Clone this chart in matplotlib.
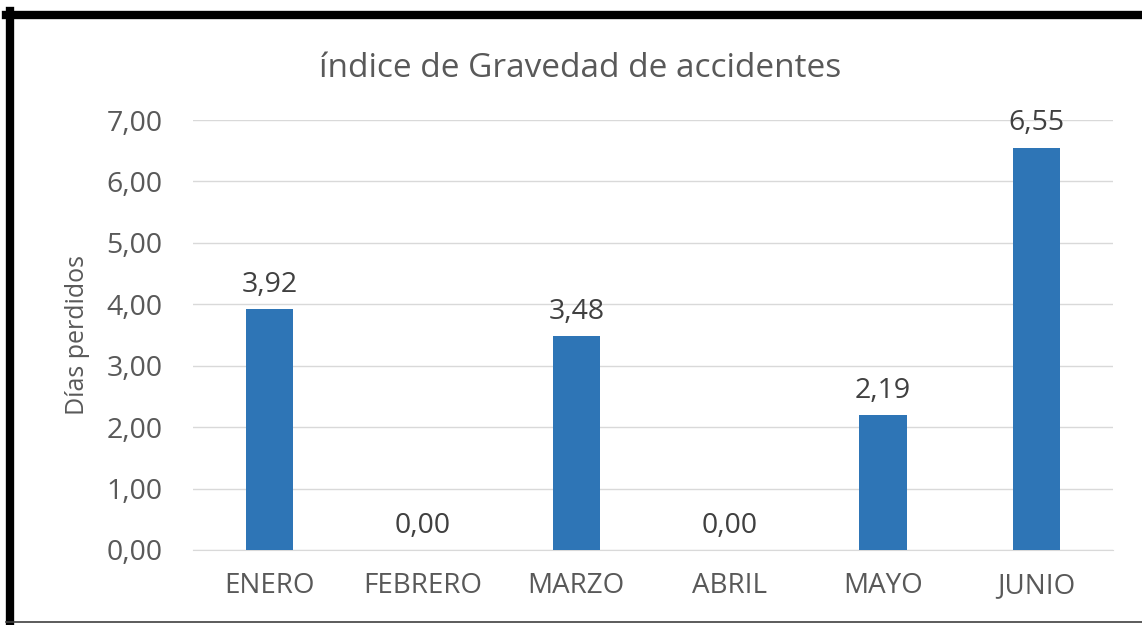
import matplotlib.pyplot as plt
from matplotlib.lines import Line2D

months = ['ENERO', 'FEBRERO', 'MARZO', 'ABRIL', 'MAYO', 'JUNIO']
values = [3.92, 0.00, 3.48, 0.00, 2.19, 6.55]
yticks = [0, 1, 2, 3, 4, 5, 6, 7]

plt.rcParams['font.family'] = ['Open Sans', 'DejaVu Sans']
gray = '#595959'

fig = plt.figure(figsize=(11.42, 6.25), dpi=100)
ax = fig.add_axes([0.169, 0.12, 0.8056, 0.688])

x = range(len(months))
ax.bar(x, values, width=0.31, color='#2E75B6', zorder=3)
for xi, v in zip(x, values):
    ax.text(xi, v + 0.17, f'{v:.2f}'.replace('.', ','), ha='center', va='bottom',
            fontsize=20.5, color='#404040')

ax.set_xlim(-0.5, len(months) - 0.5)
ax.set_ylim(0, 7)
ax.set_yticks(yticks)
ax.set_yticklabels([f'{t:.2f}'.replace('.', ',') for t in yticks], fontsize=20.5, color=gray)
ax.set_xticks(list(x))
ax.set_xticklabels(months, fontsize=20, color=gray)
ax.tick_params(length=0, pad=22, axis='y')
ax.tick_params(length=0, pad=16, axis='x')
ax.grid(axis='y', color='#D9D9D9', lw=1, zorder=0)
for s in ['top', 'right', 'left']:
    ax.spines[s].set_visible(False)
ax.spines['bottom'].set_color('#D9D9D9')

ax.set_ylabel('Días perdidos', fontsize=18, color=gray, labelpad=12)
fig.text(0.508, 0.89, 'índice de Gravedad de accidentes', ha='center', va='center',
         fontsize=24, color=gray)

# frame of the screenshot
W, H = 1142, 625
fig.add_artist(Line2D([6 / W, 1], [1 - 15 / H] * 2, color='black', lw=6, transform=fig.transFigure))
fig.add_artist(Line2D([10 / W] * 2, [0, 1 - 11 / H], color='black', lw=6, transform=fig.transFigure))
fig.add_artist(Line2D([6 / W, 1], [1 - 622 / H] * 2, color='#404040', lw=1.2, transform=fig.transFigure))

fig.savefig('out.png', dpi=100)
